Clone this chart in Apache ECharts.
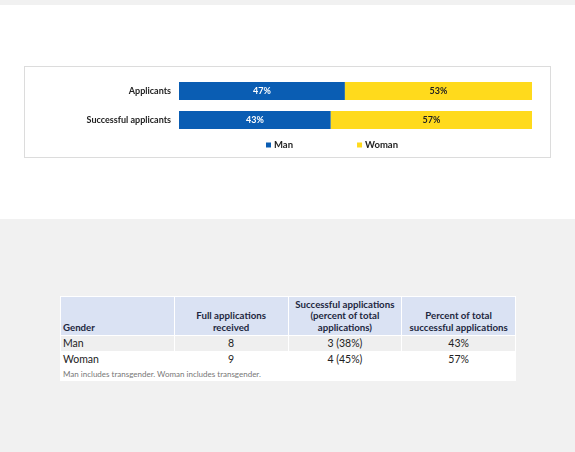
<!DOCTYPE html>
<html>
<head>
<meta charset="utf-8">
<script src="https://cdn.jsdelivr.net/npm/echarts@6/dist/echarts.min.js"></script>
<style>
html,body{margin:0;padding:0;width:575px;height:452px;background:#f1f1f1;font-family:Lato,"Noto Sans",sans-serif;overflow:hidden;}
#white{position:absolute;left:0;top:5px;width:575px;height:214px;background:#fff;}
#box{position:absolute;left:24px;top:66px;width:525px;height:90px;border:1px solid #dcdcdc;background:#fff;}
#chart{width:525px;height:90px;}
#tbl{position:absolute;left:60px;top:296px;width:456px;border-collapse:separate;border-spacing:1px;background:#fff;table-layout:fixed;}
#tbl th{background:#dae2f3;font-size:9.7px;font-weight:bold;color:#1d2740;height:36px;padding:0 2px 2px 2px;vertical-align:bottom;text-align:center;line-height:11.5px;}
#tbl th.first{text-align:left;}
#tbl th.c1{padding:0 18px 2px 18px;}
#tbl td{font-size:10.5px;color:#222;height:15px;padding:0 2px;text-align:center;line-height:15px;}
#tbl td.first{text-align:left;}
#tbl tr.man td{background:#efefef;}
#tbl tr.woman td{background:#fff;}
#tbl td.note{font-size:8px;color:#777;text-align:left;height:12px;line-height:12px;}
</style>
</head>
<body>
<div id="white"></div>
<div id="box"><div id="chart"></div></div>
<table id="tbl"></table>
<script>
const categories = ["Applicants", "Successful applicants"];
const manValues = [47, 43];
const womanValues = [53, 57];
const tableHeaders = ["Gender", "Full applications received", "Successful applications (percent of total applications)", "Percent of total successful applications"];
const tableGender = ["Man", "Woman"];
const tableFull = [8, 9];
const tableSuccess = ["3 (38%)", "4 (45%)"];
const tablePercent = ["43%", "57%"];
const tableNote = "Man includes transgender. Woman includes transgender.";

const chart = echarts.init(document.getElementById('chart'), null, {renderer:'canvas'});
chart.setOption({
  animation:false,
  textStyle:{fontFamily:'Lato'},
  grid:{left:154, right:18, top:9.5, height:58, containLabel:false},
  legend:{
    data:['Man','Woman'], left:236, top:68,
    icon:'rect', itemWidth:5, itemHeight:5, itemGap:64,
    textStyle:{fontSize:9.5, fontWeight:'bold', color:'#222', fontFamily:'Lato', padding:[0,0,0,-2]}
  },
  xAxis:{type:'value', min:0, max:100, show:false},
  yAxis:{type:'category', data:categories, inverse:true,
    axisLine:{show:false}, axisTick:{show:false},
    axisLabel:{fontSize:9, fontWeight:'bold', color:'#222', margin:8, fontFamily:'Lato'}},
  series:[
    {name:'Man', type:'bar', stack:'g', data:manValues, barCategoryGap:'38%',
     itemStyle:{color:'#0a5db3'},
     label:{show:true, position:'inside', formatter:'{c}%', color:'#fff', fontSize:9, fontWeight:'bold', fontFamily:'Lato'}},
    {name:'Woman', type:'bar', stack:'g', data:womanValues, barCategoryGap:'38%',
     itemStyle:{color:'#ffda1c'},
     label:{show:true, position:'inside', formatter:'{c}%', color:'#222', fontSize:9, fontWeight:'bold', fontFamily:'Lato'}}
  ]
});

const tbl = document.getElementById('tbl');
let html = '<tr>' + tableHeaders.map((h,i)=>'<th class="'+(i===0?'first':'c'+i)+'">'+h+'</th>').join('') + '</tr>';
tableGender.forEach((g,i)=>{
  html += '<tr class="'+(i===0?'man':'woman')+'"><td class="first">'+g+'</td><td>'+tableFull[i]+'</td><td>'+tableSuccess[i]+'</td><td>'+tablePercent[i]+'</td></tr>';
});
html += '<tr><td class="note" colspan="4">'+tableNote+'</td></tr>';
tbl.innerHTML = html;
</script>
</body>
</html>
